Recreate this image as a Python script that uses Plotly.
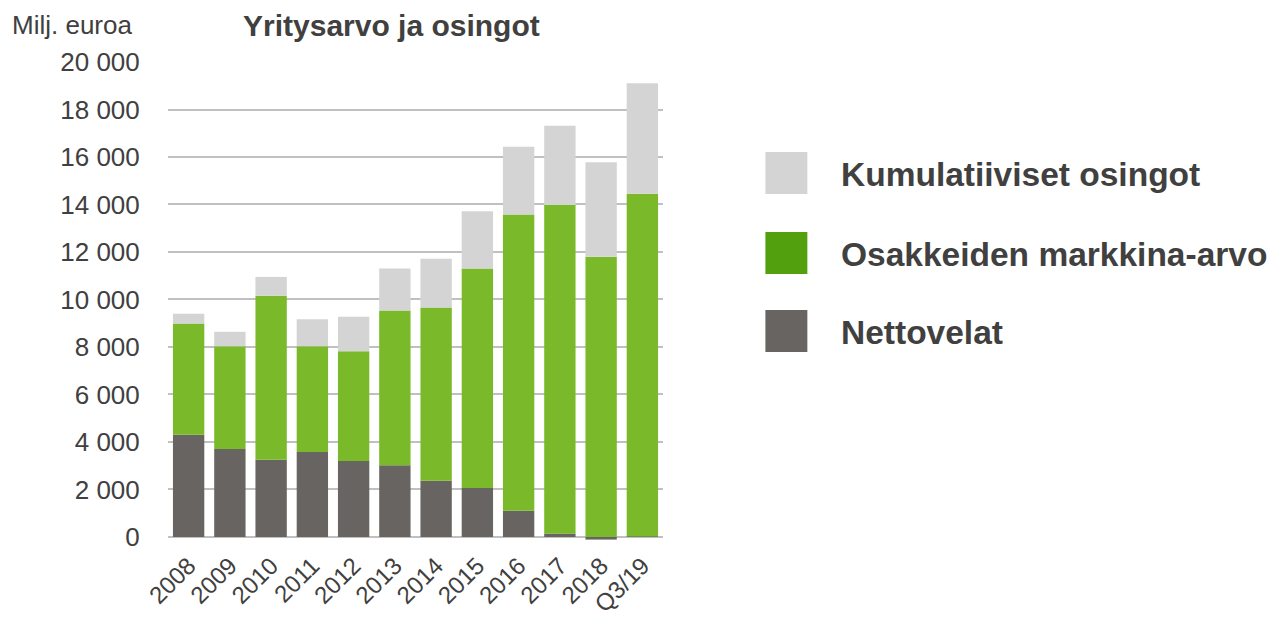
import plotly.graph_objects as go

categories = ["2008", "2009", "2010", "2011", "2012", "2013", "2014", "2015", "2016", "2017", "2018", "Q3/19"]
nettovelat = [4300, 3700, 3250, 3580, 3200, 3020, 2370, 2060, 1100, 140, -110, 20]
markkina_arvo = [4690, 4330, 6910, 4450, 4620, 6520, 7290, 9240, 12480, 13840, 11800, 14430]
osingot = [410, 610, 790, 1140, 1450, 1760, 2060, 2420, 2850, 3340, 3980, 4650]
y_ticks = [0, 2000, 4000, 6000, 8000, 10000, 12000, 14000, 16000, 18000, 20000]
y_ticktext = ["0", "2 000", "4 000", "6 000", "8 000", "10 000", "12 000", "14 000", "16 000", "18 000", "20 000"]

legend_names = ["Kumulatiiviset osingot", "Osakkeiden markkina-arvo", "Nettovelat"]

C_DARK = "#686461"
C_GREEN = "#7aba2a"
C_GREEN_LEG = "#52a00e"
C_GRAY = "#d4d4d4"
TXT = "#404040"
FONT = "Liberation Sans, Arial, sans-serif"

OFF = 8  # page body margin
W, H = 1276, 609
L, T = 168 - OFF, 62 - OFF
R = W - (663.5 - OFF)
B = H - (546 - OFF)
PW, PH = W - L - R, H - T - B


def px_x(px):
    return (px - OFF - L) / PW


def px_y(py):
    return (H - B - (py - OFF)) / PH


fig = go.Figure()
fig.add_trace(go.Bar(x=categories, y=nettovelat, name=legend_names[2], marker_color=C_DARK))
fig.add_trace(go.Bar(x=categories, y=markkina_arvo, name=legend_names[1], marker_color=C_GREEN))
fig.add_trace(go.Bar(x=categories, y=osingot, name=legend_names[0], marker_color=C_GRAY))

fig.update_traces(marker_line_width=0)

annotations = [
    dict(text="Milj. euroa", x=px_x(11), y=px_y(OFF + 1), xref="paper", yref="paper",
         xanchor="left", yanchor="top", showarrow=False, borderpad=0,
         font=dict(family=FONT, size=26, color=TXT)),
    dict(text="<b>Yritysarvo ja osingot</b>", x=px_x(391.5), y=px_y(OFF), xref="paper", yref="paper",
         xanchor="center", yanchor="top", showarrow=False, borderpad=0,
         font=dict(family=FONT, size=30, color=TXT)),
]
shapes = []
leg_colors = [C_GRAY, C_GREEN_LEG, C_DARK]
leg_tops = [152, 232, 310]
for name, col, top in zip(legend_names, leg_colors, leg_tops):
    shapes.append(dict(type="rect", xref="paper", yref="paper",
                       x0=px_x(766), x1=px_x(808), y0=px_y(top + 42), y1=px_y(top),
                       fillcolor=col, line=dict(width=0)))
    annotations.append(dict(text="<b>" + name + "</b>", x=px_x(840), y=px_y(top + 22),
                            xref="paper", yref="paper", xanchor="left", yanchor="middle",
                            showarrow=False, font=dict(family=FONT, size=33.5, color=TXT)))

fig.update_layout(
    width=W, height=H,
    margin=dict(l=L, r=R, t=T, b=B, pad=0),
    barmode="relative",
    bargap=0.24,
    showlegend=False,
    plot_bgcolor="white",
    paper_bgcolor="white",
    font=dict(family=FONT, size=26, color=TXT),
    annotations=annotations,
    shapes=shapes,
    xaxis=dict(type="category", tickangle=-45, showgrid=False, showline=False,
               ticks="", automargin=False,
               tickfont=dict(family=FONT, size=24, color=TXT)),
    yaxis=dict(range=[-380, 20000], tickvals=y_ticks, ticktext=y_ticktext,
               showgrid=True, gridcolor="#c0c0c0", gridwidth=2,
               zeroline=True, zerolinecolor="#c0c0c0", zerolinewidth=2,
               showline=False, ticks="outside", ticklen=22, tickcolor="rgba(0,0,0,0)",
               automargin=False,
               tickfont=dict(family=FONT, size=26, color=TXT)),
)

fig.write_html("out.html")
